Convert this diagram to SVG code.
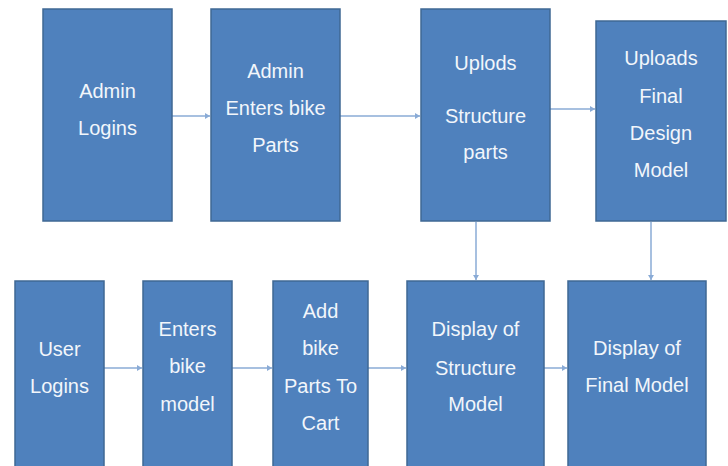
<svg xmlns="http://www.w3.org/2000/svg" width="728" height="466" viewBox="0 0 728 466">
  <style>
    .box { fill: #4f81bd; stroke: #3f6894; stroke-width: 1.5; }
    .lbl { font-family: "Liberation Sans", Arial, sans-serif; font-size: 20px; fill: #f2f6fb; text-anchor: middle; }
    .conn { stroke: #8aabd6; stroke-width: 1.5; fill: none; marker-end: url(#tip); }
  </style>
  <defs>
    <marker id="tip" markerUnits="userSpaceOnUse" markerWidth="6" markerHeight="6" refX="5" refY="3" orient="auto">
      <path d="M0,0 L5,3 L0,6 z" fill="#8aabd6"/>
    </marker>
  </defs>
  <rect width="728" height="466" fill="#ffffff"/>

  <!-- connectors -->
  <g id="connectors">
    <line class="conn" x1="172" y1="116" x2="210" y2="116"/>
    <line class="conn" x1="340" y1="116" x2="420" y2="116"/>
    <line class="conn" x1="550" y1="109" x2="595" y2="109"/>
    <line class="conn" x1="476" y1="222" x2="476" y2="280"/>
    <line class="conn" x1="651" y1="222" x2="651" y2="280"/>
    <line class="conn" x1="104" y1="368" x2="142" y2="368"/>
    <line class="conn" x1="232" y1="368" x2="272" y2="368"/>
    <line class="conn" x1="368" y1="368" x2="406" y2="368"/>
    <line class="conn" x1="544" y1="368" x2="567" y2="368"/>
  </g>

  <!-- admin flow -->
  <g id="admin-logins">
    <rect class="box" x="43" y="9" width="129" height="212"/>
    <text class="lbl" x="107.5" y="98">Admin</text>
    <text class="lbl" x="107.5" y="135">Logins</text>
  </g>
  <g id="admin-enters-parts">
    <rect class="box" x="211" y="9" width="129" height="212"/>
    <text class="lbl" x="275.5" y="78">Admin</text>
    <text class="lbl" x="275.5" y="115">Enters bike</text>
    <text class="lbl" x="275.5" y="152">Parts</text>
  </g>
  <g id="uploads-structure">
    <rect class="box" x="421" y="9" width="129" height="212"/>
    <text class="lbl" x="485.5" y="70">Uplods</text>
    <text class="lbl" x="485.5" y="123">Structure</text>
    <text class="lbl" x="485.5" y="159">parts</text>
  </g>
  <g id="uploads-final-design">
    <rect class="box" x="596" y="21" width="130" height="200"/>
    <text class="lbl" x="661" y="65">Uploads</text>
    <text class="lbl" x="661" y="103">Final</text>
    <text class="lbl" x="661" y="140">Design</text>
    <text class="lbl" x="661" y="177">Model</text>
  </g>

  <!-- user flow -->
  <g id="user-logins">
    <rect class="box" x="15" y="281" width="89" height="190"/>
    <text class="lbl" x="59.5" y="356">User</text>
    <text class="lbl" x="59.5" y="393">Logins</text>
  </g>
  <g id="enters-bike-model">
    <rect class="box" x="143" y="281" width="89" height="190"/>
    <text class="lbl" x="187.5" y="336">Enters</text>
    <text class="lbl" x="187.5" y="373">bike</text>
    <text class="lbl" x="187.5" y="411">model</text>
  </g>
  <g id="add-to-cart">
    <rect class="box" x="273" y="281" width="95" height="190"/>
    <text class="lbl" x="320.5" y="318">Add</text>
    <text class="lbl" x="320.5" y="355">bike</text>
    <text class="lbl" x="320.5" y="393">Parts To</text>
    <text class="lbl" x="320.5" y="430">Cart</text>
  </g>
  <g id="display-structure">
    <rect class="box" x="407" y="281" width="137" height="190"/>
    <text class="lbl" x="475.5" y="336">Display of</text>
    <text class="lbl" x="475.5" y="375">Structure</text>
    <text class="lbl" x="475.5" y="411">Model</text>
  </g>
  <g id="display-final">
    <rect class="box" x="568" y="281" width="138" height="190"/>
    <text class="lbl" x="637" y="355">Display of</text>
    <text class="lbl" x="637" y="392">Final Model</text>
  </g>
</svg>
